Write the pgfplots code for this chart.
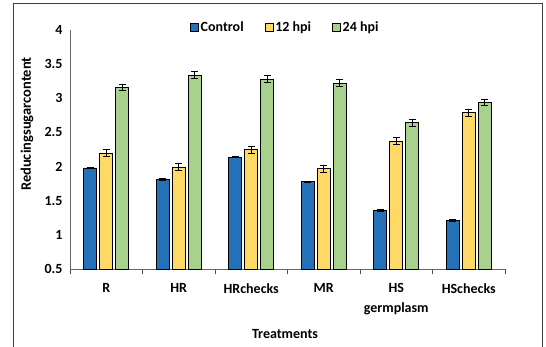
\documentclass[border=0pt]{standalone}
\usepackage{fontspec}
\setmainfont{Carlito}
\usepackage{pgfplots}
\pgfplotsset{compat=1.18}
\definecolor{cblue}{RGB}{36,113,185}
\definecolor{cyellow}{RGB}{255,217,102}
\definecolor{cgreen}{RGB}{169,209,142}
\begin{document}
\begin{tikzpicture}
\begin{axis}[
  at={(70pt,77pt)}, anchor=south west,
  scale only axis, width=435pt, height=239pt,
  ymin=0.5, ymax=4,
  xmin=-0.5, xmax=5.5,
  ytick={0.5,1,...,4},
  yticklabels={0.5,1,1.5,2,2.5,3,3.5,4},
  xtick={0,1,2,3,4,5},
  xticklabels={R,HR,HRchecks,MR,{HS\\[4pt]germplasm},HSchecks},
  minor xtick={-0.5,0.5,1.5,2.5,3.5,4.5,5.5},
  major tick length=0pt,
  minor tick length=5pt,
  tick align=outside,
  minor tick style={black!70, line width=0.8pt},
  axis x line*=bottom, axis y line*=left,
  axis line style={black!60, line width=0.8pt, -},
  ybar=3pt, bar width=13pt,
  /pgf/number format/assume math mode=true,
  ticklabel style={font=\fontsize{14}{16}\selectfont\bfseries},
  xticklabel style={align=center, yshift=-11pt},
  yticklabel style={xshift=-4pt},
  legend style={at={(0.495,1.013)}, anchor=center, draw=none, fill=none,
    font=\fontsize{14}{16}\selectfont\bfseries, legend columns=3,
    /tikz/every even column/.append style={column sep=19pt},
    inner sep=0pt},
  legend image code/.code={\draw[#1, draw=black, line width=0.6pt] (0pt,-4pt) rectangle (8pt,4pt);},
  error bars/error bar style={black, line width=0.8pt},
  error bars/error mark options={rotate=90, mark size=3.5pt, line width=0.8pt, black},
  every axis plot/.append style={draw=black, line width=0.8pt},
]
\addplot[fill=cblue, error bars/.cd, y dir=both, y explicit] coordinates {
  (0,1.98) +- (0,0.01)
  (1,1.81) +- (0,0.01)
  (2,2.14) +- (0,0.01)
  (3,1.78) +- (0,0.01)
  (4,1.36) +- (0,0.01)
  (5,1.21) +- (0,0.01)
};
\addplot[fill=cyellow, error bars/.cd, y dir=both, y explicit] coordinates {
  (0,2.20) +- (0,0.05)
  (1,1.99) +- (0,0.05)
  (2,2.25) +- (0,0.05)
  (3,1.97) +- (0,0.05)
  (4,2.37) +- (0,0.05)
  (5,2.79) +- (0,0.05)
};
\addplot[fill=cgreen, error bars/.cd, y dir=both, y explicit] coordinates {
  (0,3.16) +- (0,0.05)
  (1,3.34) +- (0,0.05)
  (2,3.28) +- (0,0.05)
  (3,3.22) +- (0,0.05)
  (4,2.64) +- (0,0.05)
  (5,2.94) +- (0,0.05)
};
\legend{Control,12 hpi,24 hpi}
\end{axis}
\node[rotate=90, font=\fontsize{14.5}{16}\selectfont\bfseries] at (27pt,222pt) {Reducingsugarcontent};
\node[font=\fontsize{14}{16}\selectfont\bfseries] at (285pt,12pt) {Treatments};
\draw[black!75, line width=1pt] (13pt,-2pt) -- (13pt,342pt) -- (542pt,342pt) -- (542pt,-2pt);
\pgfresetboundingbox
\path[use as bounding box] (0pt,0pt) rectangle (546pt,346pt);
\end{tikzpicture}
\end{document}
